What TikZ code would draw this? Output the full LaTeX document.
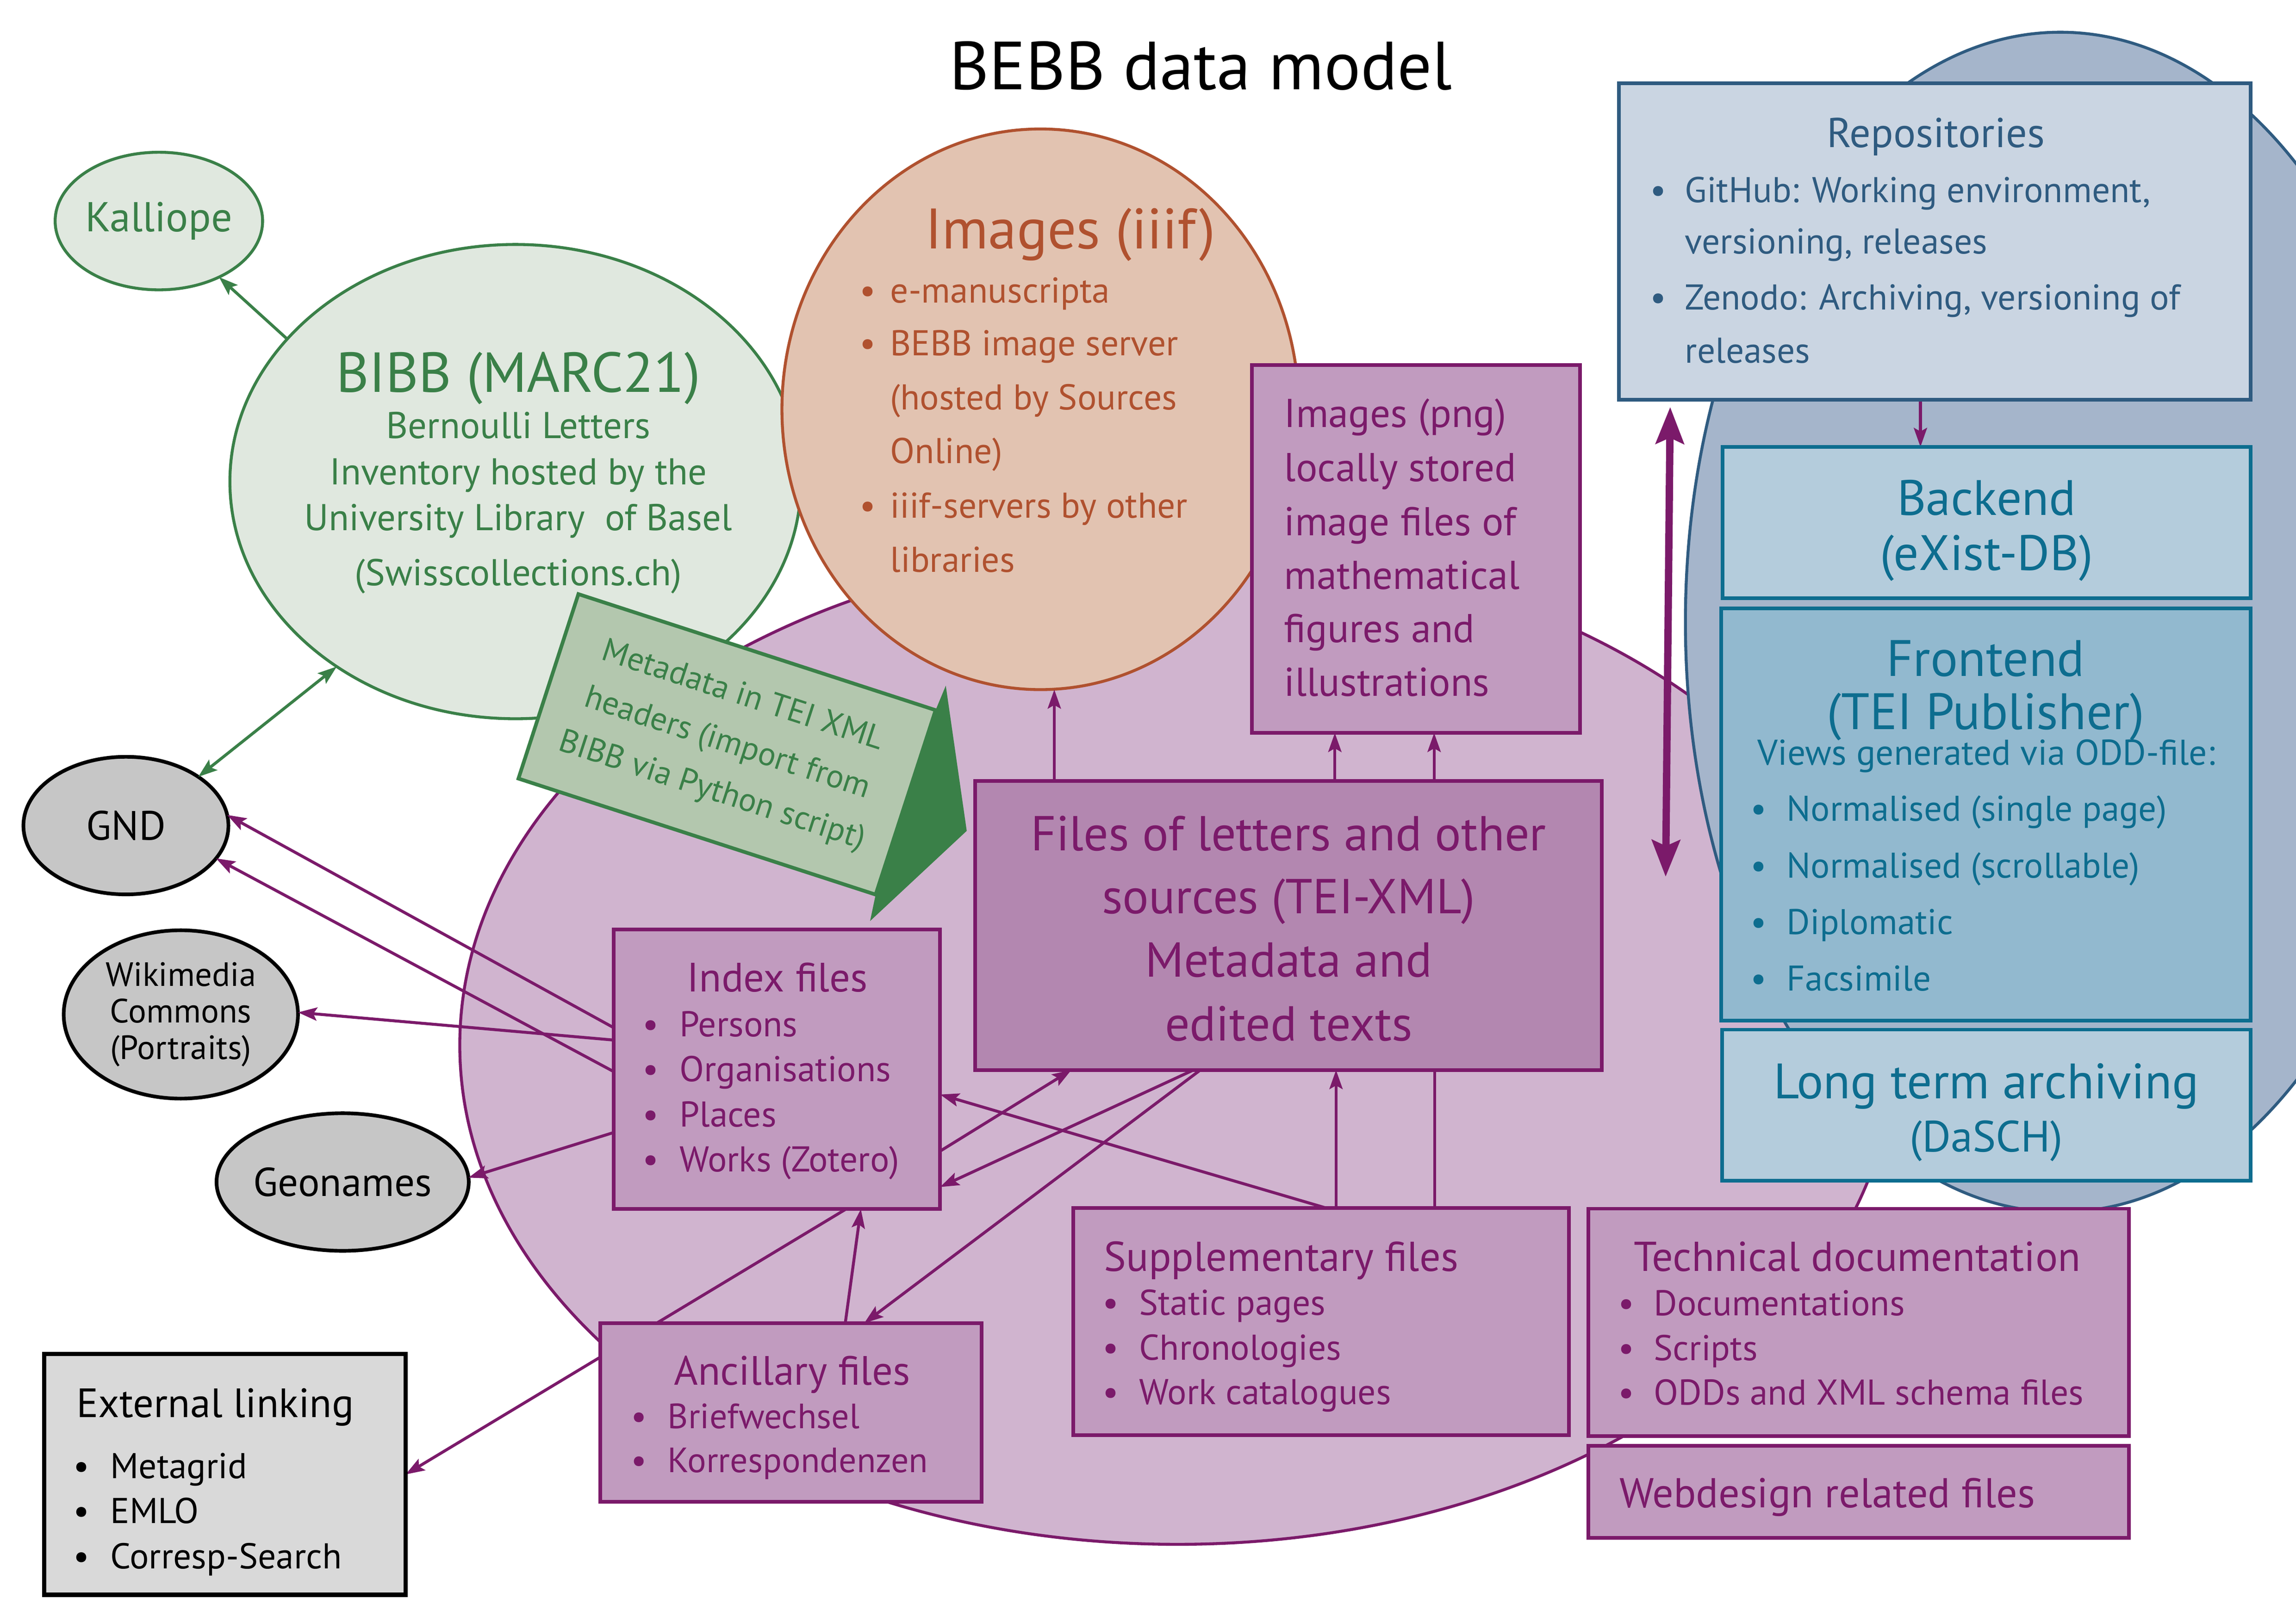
\documentclass[tikz,border=0pt]{standalone}
\usepackage{fontspec}
\setmainfont{PT Sans}
\usetikzlibrary{shapes.geometric,arrows.meta}
\pgfdeclarelayer{bg}
\pgfdeclarelayer{conn}
\pgfsetlayers{bg,conn,main}
\definecolor{pu}{HTML}{7B1A6A}
\definecolor{puell}{HTML}{D0B4CF}
\definecolor{pubox}{HTML}{C19BBF}
\definecolor{pufiles}{HTML}{B387B0}
\definecolor{gr}{HTML}{3A8048}
\definecolor{grfill}{HTML}{E0E8DF}
\definecolor{grtent}{HTML}{B3C7AE}
\definecolor{rust}{HTML}{B0512F}
\definecolor{rustfill}{HTML}{E2C3B1}
\definecolor{gyfill}{HTML}{C6C6C6}
\definecolor{gyext}{HTML}{D9D9D9}
\definecolor{bl}{HTML}{2F5B80}
\definecolor{blell}{HTML}{A5B5CB}
\definecolor{blrepo}{HTML}{CAD5E2}
\definecolor{te}{HTML}{0D6D8F}
\definecolor{tefill}{HTML}{B4CCDC}
\definecolor{tefront}{HTML}{92B9CF}
\newcommand{\fsz}[1]{\fontsize{#1}{#1}\selectfont}
\newcommand{\blt}[2]{\makebox[#1pt][l]{\textbullet}#2}
\tikzset{
  tx/.style={inner sep=0pt, outer sep=0pt},
  ptx/.style={tx, text=pu},
  gtx/.style={tx, text=gr},
  rtx/.style={tx, text=rust},
  btx/.style={tx, text=bl},
  ttx/.style={tx, text=te},
  ktx/.style={tx, text=black},
  pbox/.style={rectangle, draw=pu, fill=pubox, line width=2.5pt, inner sep=0pt, outer sep=0pt},
  tbox/.style={rectangle, draw=te, fill=tefill, line width=2.5pt, inner sep=0pt, outer sep=0pt},
  gell/.style={ellipse, draw=gr, fill=grfill, line width=2pt, inner sep=0pt, outer sep=0pt},
  kell/.style={ellipse, draw=black, fill=gyfill, line width=2.5pt, inner sep=0pt, outer sep=0pt},
  arr/.style={draw=pu, line width=2pt, -{Stealth[length=13pt,width=9pt,inset=2.5pt]}},
  garr/.style={draw=gr, line width=2pt, -{Stealth[length=13pt,width=9pt,inset=2.5pt]}},
  gdarr/.style={draw=gr, line width=2pt, {Stealth[length=13pt,width=9pt,inset=2.5pt]}-{Stealth[length=13pt,width=9pt,inset=2.5pt]}},
  link/.style={draw=pu, line width=2pt},
  bigarr/.style={draw=pu, line width=5pt, {Stealth[length=25pt,width=19pt,inset=4pt]}-{Stealth[length=25pt,width=19pt,inset=4pt]}},
}
\begin{document}
\begin{tikzpicture}[x=1pt,y=-1pt]
\useasboundingbox (0,0) rectangle (1568,1108.7);

\begin{pgfonlayer}{bg}
% containers
\node[ellipse, draw=pu, fill=puell, line width=2pt, minimum width=980pt, minimum height=682pt, inner sep=0pt, outer sep=0pt] (core) at (804,714) {};
\node[ellipse, draw=bl, fill=blell, line width=2pt, minimum width=512pt, minimum height=806pt, inner sep=0pt, outer sep=0pt] (webenv) at (1407,425) {};
% green / grey ellipses
\node[gell, minimum width=141pt, minimum height=94pt, text=gr, font=\fsz{28.5}] (kal) at (108.5,151) {Kalliope};
\node[gell, minimum width=390pt, minimum height=324pt] (bibb) at (352,329) {};
\node[kell, minimum width=140pt, minimum height=94pt, font=\fsz{28}] (gnd) at (86,564) {GND};
\node[kell, minimum width=160pt, minimum height=115pt, align=center, font=\fontsize{23}{25}\selectfont] (wiki) at (123.5,693) {Wikimedia\\Commons\\(Portraits)};
\node[kell, minimum width=141pt, minimum height=94pt, font=\fsz{27.5}] (geo) at (234,807.5) {Geonames};
% images iiif
\node[ellipse, draw=rust, fill=rustfill, line width=2pt, minimum width=353pt, minimum height=383pt, inner sep=0pt, outer sep=0pt] (iiif) at (710.5,279.6) {};
% tent label
\node[draw=gr, fill=grtent, line width=2.5pt, rotate=-18, minimum width=256.5pt, minimum height=132.5pt, inner sep=0pt, outer sep=0pt, align=center, text=gr, font=\fontsize{22.5}{34}\selectfont] (tent) at (496.5,508.5) {Metadata in TEI XML\\headers (import from\\BIBB via Python script)};
\fill[gr] (tent.north east) -- (645.9,468.4) -- (660.2,567.6) -- (594.2,629.2) -- (tent.south east) -- cycle;
\end{pgfonlayer}

% boxes
\node[pbox, minimum width=224pt, minimum height=251.4pt] (png) at (967,375) {};
\node[pbox, fill=pufiles, minimum width=428pt, minimum height=197.6pt] (files) at (880,632.2) {};
\node[pbox, minimum width=223pt, minimum height=191pt] (index) at (530.5,730.5) {};
\node[pbox, minimum width=260.5pt, minimum height=122.1pt] (anc) at (540.25,964.95) {};
\node[pbox, minimum width=338.4pt, minimum height=155.2pt] (supp) at (902.2,902.8) {};
\node[pbox, minimum width=369.2pt, minimum height=155.3pt] (tech) at (1269.4,903.35) {};
\node[pbox, minimum width=369.2pt, minimum height=62.9pt] (web) at (1269.4,1019.05) {};
\node[rectangle, draw=black, fill=gyext, line width=3pt, minimum width=246.8pt, minimum height=164.5pt, inner sep=0pt, outer sep=0pt] (ext) at (153.6,1007.25) {};
\node[rectangle, draw=bl, fill=blrepo, line width=2.5pt, minimum width=431.4pt, minimum height=216pt, inner sep=0pt, outer sep=0pt] (repo) at (1321.3,165) {};
\node[tbox, minimum width=360.7pt, minimum height=103.3pt] (backend) at (1356.65,356.95) {};
\node[tbox, fill=tefront, minimum width=361.7pt, minimum height=281.6pt] (front) at (1356.15,556.3) {};
\node[tbox, minimum width=361pt, minimum height=103.2pt] (lta) at (1356.5,755) {};
\coordinate (dbarr) at (1137.5,599);

% connectors
\begin{pgfonlayer}{conn}
\draw[garr] (bibb.148) -- (kal.-43);
\draw[gdarr] (gnd.34) -- (bibb.-134);
\draw[arr] ([xshift=-160pt]files.north) -- ([xshift=9.5pt]iiif.south);
\draw[arr] ([xshift=31.6pt]files.north) -- ([xshift=-55.4pt]png.south);
\draw[arr] ([xshift=99.4pt]files.north) -- ([xshift=12.4pt]png.south);
\draw[arr] ([yshift=28.5pt]index.west) -- (gnd.6);
\draw[arr] ([yshift=-1.5pt]index.west) -- (gnd.-20);
\draw[arr] ([yshift=20pt]index.west) -- (wiki.1);
\draw[arr] ([yshift=-43.2pt]index.west) -- (geo.2);
\draw[arr] ([yshift=-55.9pt]index.east) -- ([xshift=-148.4pt]files.south);
\draw[arr] ([xshift=-65pt]files.south) -- ([yshift=-80.4pt]index.east);
\draw[arr] ([xshift=-60.3pt]files.south) -- ([xshift=49.95pt]anc.north);
\draw[arr] ([xshift=3.3pt]supp.north) -- ([yshift=-17.2pt]index.east);
\draw[arr] ([xshift=10.2pt]supp.north) -- ([xshift=32.4pt]files.south);
\draw[link] ([xshift=77.5pt]supp.north) -- ([xshift=99.7pt]files.south);
\draw[arr] ([xshift=47.2pt]index.south) -- (ext.east);
\draw[arr] ([xshift=37pt]anc.north) -- ([xshift=57.4pt]index.south);
\draw[arr] ([xshift=-9.8pt]repo.south) -- ([xshift=-45.15pt]backend.north);
\draw[bigarr] ([xshift=35pt,yshift=-5pt]repo.south west) -- (dbarr);
\end{pgfonlayer}

% title
\node[ktx, anchor=base, font=\fsz{46.5}] (title) at (820,61) {BEBB data model};

% BIBB text
\node[gtx, anchor=base, font=\fsz{38.5}] (bibb1) at (354,268) {BIBB (MARC21)};
\node[gtx, anchor=base, font=\fsz{25.5}] (bibb2) at (354,299.6) {Bernoulli Letters};
\node[gtx, anchor=base, font=\fsz{25.5}] (bibb3) at (354,331) {Inventory hosted by the};
\node[gtx, anchor=base, font=\fsz{25.5}] (bibb4) at (354,362.5) {University Library\ \ of Basel};
\node[gtx, anchor=base, font=\fsz{25.5}] (bibb5) at (354,400) {(Swisscollections.ch)};

% iiif text
\node[rtx, anchor=base, font=\fsz{39}] (iiif0) at (731,170) {Images (iiif)};
\node[rtx, anchor=base west, font=\fsz{24.5}] (iiif1) at (587,207) {\blt{21}{e-manuscripta}};
\node[rtx, anchor=base west, font=\fsz{24.5}] (iiif2) at (587,243) {\blt{21}{BEBB image server}};
\node[rtx, anchor=base west, font=\fsz{24.5}] (iiif3) at (608,280) {(hosted by Sources};
\node[rtx, anchor=base west, font=\fsz{24.5}] (iiif4) at (608,316.4) {Online)};
\node[rtx, anchor=base west, font=\fsz{24.5}] (iiif5) at (587,353.8) {\blt{21}{iiif-servers by other}};
\node[rtx, anchor=base west, font=\fsz{24.5}] (iiif6) at (608,390.7) {libraries};

% png text
\node[ptx, anchor=base west, font=\fsz{27.5}] (png1) at (877,292) {Images (png)};
\node[ptx, anchor=base west, font=\fsz{27.5}] (png2) at (877,329) {locally stored};
\node[ptx, anchor=base west, font=\fsz{27.5}] (png3) at (877,365.7) {image files of};
\node[ptx, anchor=base west, font=\fsz{27.5}] (png4) at (877,402.4) {mathematical};
\node[ptx, anchor=base west, font=\fsz{27.5}] (png5) at (877,439) {figures and};
\node[ptx, anchor=base west, font=\fsz{27.5}] (png6) at (877,475.5) {illustrations};

% files text
\node[ptx, anchor=base, font=\fsz{33.5}] (files1) at (880,581) {Files of letters and other};
\node[ptx, anchor=base, font=\fsz{33.5}] (files2) at (880,624) {sources (TEI-XML)};
\node[ptx, anchor=base, font=\fsz{33.5}] (files3) at (880,667.5) {Metadata and};
\node[ptx, anchor=base, font=\fsz{33.5}] (files4) at (880,711) {edited texts};

% index text
\node[ptx, anchor=base, font=\fsz{28}] (index0) at (531,677.4) {Index files};
\node[ptx, anchor=base west, font=\fsz{24.5}] (index1) at (439,708.2) {\blt{25}{Persons}};
\node[ptx, anchor=base west, font=\fsz{24.5}] (index2) at (439,738.8) {\blt{25}{Organisations}};
\node[ptx, anchor=base west, font=\fsz{24.5}] (index3) at (439,769.8) {\blt{25}{Places}};
\node[ptx, anchor=base west, font=\fsz{24.5}] (index4) at (439,800.4) {\blt{25}{Works (Zotero)}};

% ancillary text
\node[ptx, anchor=base, font=\fsz{28}] (anc0) at (541,946.2) {Ancillary files};
\node[ptx, anchor=base west, font=\fsz{24}] (anc1) at (431,975.8) {\blt{25}{Briefwechsel}};
\node[ptx, anchor=base west, font=\fsz{24}] (anc2) at (431,1006) {\blt{25}{Korrespondenzen}};

% supplementary text
\node[ptx, anchor=base west, font=\fsz{28.5}] (supp0) at (754,868.5) {Supplementary files};
\node[ptx, anchor=base west, font=\fsz{24.5}] (supp1) at (753,898.4) {\blt{25}{Static pages}};
\node[ptx, anchor=base west, font=\fsz{24.5}] (supp2) at (753,929) {\blt{25}{Chronologies}};
\node[ptx, anchor=base west, font=\fsz{24.5}] (supp3) at (753,959.4) {\blt{25}{Work catalogues}};

% technical documentation text
\node[ptx, anchor=base west, font=\fsz{28.5}] (tech0) at (1116,868.3) {Technical documentation};
\node[ptx, anchor=base west, font=\fsz{24.5}] (tech1) at (1105,898.8) {\blt{24.5}{Documentations}};
\node[ptx, anchor=base west, font=\fsz{24.5}] (tech2) at (1105,929.3) {\blt{24.5}{Scripts}};
\node[ptx, anchor=base west, font=\fsz{24.5}] (tech3) at (1105,959.7) {\blt{24.5}{ODDs and XML schema files}};
\node[ptx, anchor=base west, font=\fsz{28.5}] (web0) at (1106,1029.8) {Webdesign related files};

% external linking text
\node[ktx, anchor=base west, font=\fsz{28}] (ext0) at (52.3,968.2) {External linking};
\node[ktx, anchor=base west, font=\fsz{24.5}] (ext1) at (50,1010) {\blt{25.4}{Metagrid}};
\node[ktx, anchor=base west, font=\fsz{24.5}] (ext2) at (50,1040.7) {\blt{25.4}{EMLO}};
\node[ktx, anchor=base west, font=\fsz{24.5}] (ext3) at (50,1071.6) {\blt{25.4}{Corresp-Search}};

% repositories text
\node[btx, anchor=base, font=\fsz{28.5}] (repo0) at (1322,100.7) {Repositories};
\node[btx, anchor=base west, font=\fsz{24.5}] (repo1) at (1127,138.3) {\blt{23.7}{GitHub: Working environment,}};
\node[btx, anchor=base west, font=\fsz{24.5}] (repo2) at (1150.7,173.5) {versioning, releases};
\node[btx, anchor=base west, font=\fsz{24.5}] (repo3) at (1127,211.6) {\blt{23.7}{Zenodo: Archiving, versioning of}};
\node[btx, anchor=base west, font=\fsz{24.5}] (repo4) at (1150.7,247.8) {releases};

% backend / frontend / archiving text
\node[ttx, anchor=base, font=\fsz{34}] (back1) at (1356.6,352) {Backend};
\node[ttx, anchor=base, font=\fsz{34}] (back2) at (1356.6,389.5) {(eXist-DB)};
\node[ttx, anchor=base, font=\fsz{35}] (front1) at (1356,462) {Frontend};
\node[ttx, anchor=base, font=\fsz{35}] (front2) at (1356,498.3) {(TEI Publisher)};
\node[ttx, anchor=base, font=\fsz{24.5}] (front3) at (1356.5,522.5) {Views generated via ODD-file:};
\node[ttx, anchor=base west, font=\fsz{24.4}] (front4) at (1195.5,560.9) {\blt{24.8}{Normalised (single page)}};
\node[ttx, anchor=base west, font=\fsz{24.4}] (front5) at (1195.5,599.6) {\blt{24.8}{Normalised (scrollable)}};
\node[ttx, anchor=base west, font=\fsz{24.4}] (front6) at (1195.5,638.3) {\blt{24.8}{Diplomatic}};
\node[ttx, anchor=base west, font=\fsz{24.4}] (front7) at (1195.5,676.7) {\blt{24.8}{Facsimile}};
\node[ttx, anchor=base, font=\fsz{34}] (lta1) at (1356.5,750.6) {Long term archiving};
\node[ttx, anchor=base, font=\fsz{30}] (lta2) at (1356.5,786.7) {(DaSCH)};
\end{tikzpicture}
\end{document}
